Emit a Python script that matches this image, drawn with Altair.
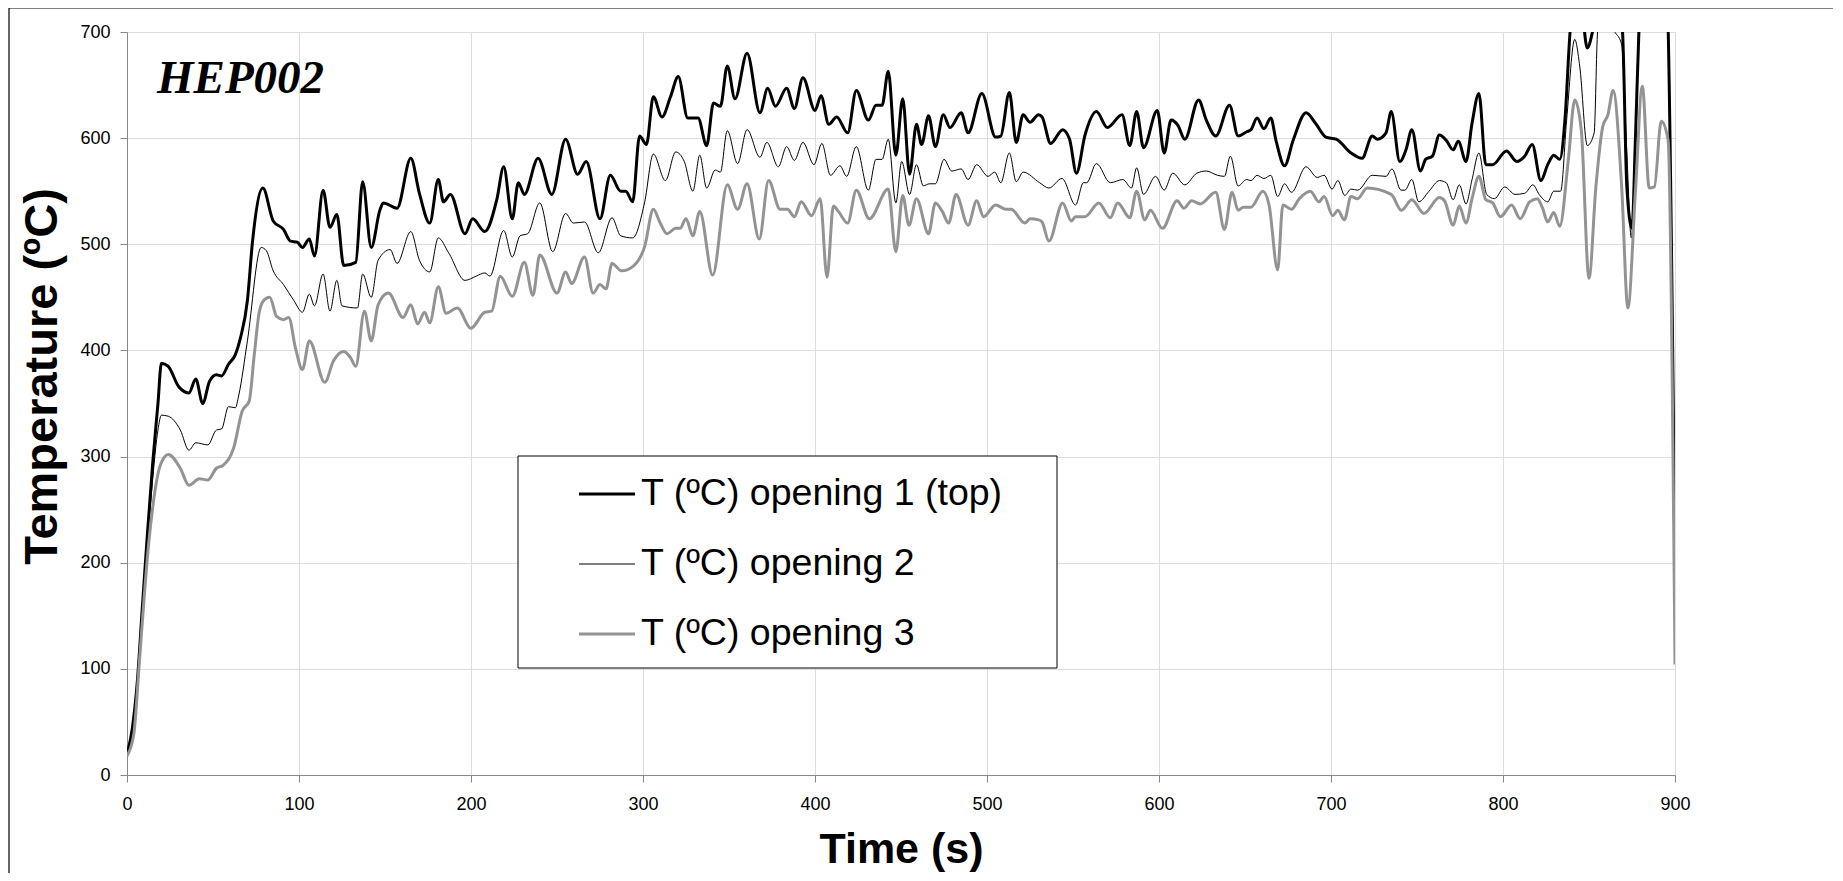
import altair as alt
import pandas as pd

series_names = ["T (ºC) opening 1 (top)", "T (ºC) opening 2", "T (ºC) opening 3"]
series_colors = ["#000000", "#000000", "#939393"]
series_widths = [3.0, 1.0, 3.0]

t1 = [0, 3, 6, 9, 12, 15, 18, 20, 24, 30, 36, 40, 44, 48, 52, 55, 59, 63, 66, 70, 73, 79, 85, 91, 95, 99,
      102, 106, 109, 114, 118, 122, 126, 133, 137, 142, 147, 149, 157, 165, 170, 176, 181, 184, 188, 196.5,
      201, 208, 215, 219, 224, 227.5, 231, 239, 247, 255, 262, 267, 275, 281, 287, 290, 294, 298, 302, 306,
      311, 316, 320.5, 326, 332, 337, 341, 345, 349, 353.5, 360.5, 368, 372.5, 377, 383.5, 388, 393, 400,
      403.5, 408, 412.6, 419, 424, 431, 435.5, 439, 442.6, 447, 451, 455, 459, 462, 466, 470, 474.6, 478.5,
      485, 489, 497, 505, 508, 513, 517, 521, 525, 530, 532, 537, 544, 548, 552, 557, 563.6, 570, 578.5,
      583, 587, 591, 599, 603, 607, 611, 615, 623, 627.5, 633, 641, 646, 651, 653.5, 657, 661, 665, 668,
      673, 678, 685.5, 691, 697, 703, 711.6, 718, 724, 727, 732, 735, 740, 743.6, 747, 752, 755, 759, 763,
      767, 771, 774, 778.5, 782, 786, 790, 794, 802, 808, 812.6, 817, 822, 826, 829.5, 833, 836, 839, 843,
      846, 849, 852, 856, 862, 867, 869.5, 872, 875, 877, 879, 882, 890, 895, 900]
T1 = [20, 43, 88, 160, 230, 295, 350, 388, 385, 366, 360, 373, 350, 371, 377, 376, 387, 396, 412, 447, 503,
      553, 522, 514, 503, 502, 497, 505, 489, 551, 516, 528, 480, 483, 559, 497, 532, 539, 534, 581, 548,
      520, 561, 540, 547, 510, 524, 512, 542, 573, 524, 558, 547, 581, 547, 599, 566, 578, 524, 565, 550,
      550, 540, 602, 594, 639, 620, 639, 658, 619, 619, 593, 633, 630, 668, 637, 680, 624, 647, 630, 647,
      628, 657, 626, 640, 613, 620, 605, 645, 617, 631, 631, 663, 584, 637, 566, 613, 594, 621, 592, 622,
      610, 624, 605, 642, 601, 602, 643, 596, 622, 615, 622, 620, 595, 608, 599, 567, 603, 625, 610, 622,
      593, 625, 591, 626, 586, 617, 612, 599, 636, 617, 602, 631, 602, 606, 608, 619, 609, 619, 598, 574,
      598, 624, 614, 601, 599, 586, 581, 602, 599, 605, 625, 578, 589, 608, 569, 580, 583, 603, 598, 589,
      597, 578, 614, 642, 575, 575, 588, 578, 583, 594, 560, 575, 584, 580, 617, 700, 745, 720, 685, 700,
      740, 750, 730, 700, 554, 515, 600, 700, 760, 770, 750, 188]

t2 = [0, 3, 6, 9, 12, 15, 18, 20, 24, 31, 36, 40, 47, 52, 55, 59, 63, 65, 70, 78, 81, 85, 91, 97, 102, 106,
      109, 114, 118, 122, 125, 134, 137, 142, 146, 153, 157, 165, 170, 176, 181, 187, 196.5, 203, 208, 211,
      219, 224, 228.5, 233, 240, 247.5, 255, 259.5, 266, 274, 282, 287, 294, 301, 306, 313, 319, 324, 329,
      333, 337, 342, 345, 349, 355, 360.5, 368, 372, 378.7, 383.5, 388, 393, 399.4, 404, 409, 414.5, 418.4,
      424, 431, 435.5, 439, 442.6, 447, 450.4, 455, 459, 463, 466.5, 470, 475, 479.5, 485, 489, 494, 500.6,
      504.5, 508, 513, 517, 521, 530.6, 536, 543.6, 551.5, 556, 558, 563.6, 571.7, 579, 584, 587, 591, 598,
      603, 608, 615, 622, 627.5, 634, 638, 641.5, 646, 651, 653.5, 657, 661, 665, 669, 673, 677, 685.5, 692,
      696, 700.6, 704, 708, 711.6, 715.5, 724, 732, 735.5, 740.7, 743, 747, 751, 757, 763, 767, 771, 774.6,
      778.5, 782, 786, 790.5, 795, 801, 807, 812.6, 817.4, 821, 826, 829.5, 833.5, 837, 841.7, 844.6, 849,
      853, 855, 860, 864, 869, 872, 874.6, 877, 879, 885, 895, 900]
T2 = [20, 40, 80, 150, 220, 280, 325, 339, 338, 325, 306, 313, 311, 325, 326, 347, 346, 358, 409, 497, 494,
      475, 462, 447, 436, 453, 442, 472, 437, 466, 442, 440, 472, 450, 485, 495, 482, 512, 485, 474, 506,
      492, 466, 470, 473, 470, 513, 488, 508, 510, 539, 493, 529, 520, 521, 492, 525, 508, 506, 540, 585,
      560, 587, 578, 550, 584, 553, 570, 568, 607, 576, 608, 582, 596, 573, 592, 579, 596, 575, 595, 565,
      574, 564, 592, 551, 580, 580, 599, 539, 578, 547, 575, 555, 557, 557, 580, 569, 571, 561, 575, 564,
      568, 558, 586, 559, 568, 558, 553, 562, 537, 558, 558, 576, 558, 561, 553, 572, 547, 564, 551, 567,
      556, 567, 569, 565, 564, 583, 555, 561, 560, 565, 562, 565, 545, 557, 549, 573, 563, 565, 552, 560,
      546, 552, 551, 565, 564, 571, 551, 551, 561, 540, 550, 560, 558, 542, 556, 538, 561, 586, 547, 543,
      554, 547, 548, 556, 547, 540, 550, 550, 617, 693, 668, 593, 605, 700, 740, 705, 688, 586, 506, 600,
      700, 760, 750, 160]

t3 = [0, 4, 7, 10, 12.6, 15.5, 19.4, 24, 31, 36, 42, 47, 52, 56, 62, 67, 71, 74, 77, 80, 83, 87, 91, 94, 98,
      102, 106, 115, 120, 126, 130, 133, 138, 142, 146, 152, 160.5, 165, 169, 173, 176, 181, 185.5, 192,
      200, 208, 212, 217, 224, 231, 236, 240, 250, 255, 258.5, 266, 271, 275, 278.5, 282, 287.5, 294, 301,
      306, 310, 314, 319, 321.5, 325, 329, 333, 340.5, 349, 355, 360.5, 367.6, 373, 379.7, 384, 388, 392,
      398, 403, 407, 410.7, 413.6, 419, 424, 431.6, 442.6, 447, 451, 454.6, 459, 466, 470, 474, 477.7, 482,
      489, 494, 498, 505, 511, 514, 522, 525, 530, 532, 536, 544, 549, 551.5, 557, 565, 571.7, 576, 583,
      587, 591.7, 595, 602, 610.5, 614.5, 619, 624, 633, 638, 642.5, 646, 649, 653.5, 660.4, 664, 669, 672,
      677, 681.6, 688, 693, 696, 701, 704, 707.8, 711.6, 715.5, 721, 735, 741, 747, 754, 763, 766, 771,
      774.6, 778.5, 782, 786, 790, 794, 798.5, 805, 810, 815.5, 820, 823, 826, 829.5, 833, 838, 841.7,
      845.5, 850, 854, 858, 861, 864, 869, 872.6, 877, 881, 885, 888, 892, 896, 900]
T3 = [18, 39, 102, 168, 218, 259, 292, 302, 289, 273, 279, 278, 289, 292, 308, 343, 352, 396, 437, 448, 450,
      432, 429, 431, 402, 382, 409, 370, 390, 399, 393, 385, 437, 409, 443, 454, 431, 443, 425, 436, 426,
      460, 435, 440, 421, 436, 437, 470, 451, 483, 452, 490, 454, 474, 463, 488, 454, 462, 458, 482, 475,
      479, 498, 533, 520, 510, 515, 515, 524, 508, 531, 471, 556, 533, 557, 505, 560, 533, 533, 526, 540,
      527, 543, 469, 536, 531, 520, 551, 524, 552, 493, 546, 518, 543, 510, 539, 531, 520, 547, 518, 541,
      526, 537, 533, 533, 520, 524, 523, 521, 503, 539, 522, 526, 526, 539, 525, 539, 525, 550, 523, 532,
      515, 541, 534, 541, 538, 549, 514, 549, 532, 535, 535, 550, 537, 476, 537, 533, 543, 550, 540, 545,
      527, 532, 523, 545, 543, 553, 547, 532, 542, 529, 544, 541, 518, 536, 520, 543, 564, 542, 539, 526,
      537, 524, 540, 543, 534, 521, 530, 517, 580, 636, 608, 468, 554, 611, 622, 645, 554, 440, 550, 649,
      553, 554, 616, 598, 104]

frames = []
for name, ts, vs in zip(series_names, [t1, t2, t3], [T1, T2, T3]):
    frames.append(pd.DataFrame({"time": ts, "temp": vs, "series": name}))
df = pd.concat(frames, ignore_index=True)

W, H = 1548, 743
FONT = "Liberation Sans"

x_enc = alt.X("time:Q",
              scale=alt.Scale(domain=[0, 900], nice=False, zero=False),
              axis=alt.Axis(values=list(range(0, 901, 100)), title="Time (s)",
                            labelFontSize=18, labelPadding=13, tickSize=7, labelFlush=False,
                            titleFontSize=43, titleFontWeight="bold", titleFont=FONT,
                            titleX=W / 2, titleY=74, titleBaseline="middle", titleAlign="center"))
y_enc = alt.Y("temp:Q",
              scale=alt.Scale(domain=[0, 700], nice=False),
              axis=alt.Axis(values=list(range(0, 701, 100)), title="Temperature (ºC)",
                            labelFontSize=18, labelPadding=10, tickSize=7, labelFlush=False,
                            titleFontSize=47, titleFontWeight="bold", titleFont=FONT,
                            titleX=-85, titleY=344, titleAngle=270,
                            titleBaseline="middle", titleAlign="center"))

color_enc = alt.Color("series:N", scale=alt.Scale(domain=series_names, range=series_colors), legend=None)

line_layers = []
for i, (name, sw) in enumerate(zip(series_names, series_widths)):
    enc = dict(x=x_enc, y=y_enc, color=color_enc) if i == 0 else dict(
        x=alt.X("time:Q"), y=alt.Y("temp:Q"), color=color_enc)
    line_layers.append(
        alt.Chart(df).transform_filter(alt.datum.series == name)
        .mark_line(interpolate="monotone", clip=True, strokeWidth=sw)
        .encode(**enc)
    )

label = alt.Chart(pd.DataFrame({"txt": ["HEP002"]})).mark_text(
    font="Liberation Serif", fontSize=47, fontWeight="bold", fontStyle="italic",
    align="left", baseline="alphabetic", color="black"
).encode(x=alt.value(30), y=alt.value(61), text="txt:N")

# legend (hand-built box)
leg_box = alt.Chart(pd.DataFrame({"a": [0]})).mark_rect(
    fill="white", stroke="black", strokeWidth=1
).encode(x=alt.value(391), x2=alt.value(930), y=alt.value(424), y2=alt.value(636))

leg_layers = [leg_box]
row_y = [462, 532, 602]
for name, col, sw, ry in zip(series_names, series_colors, series_widths, row_y):
    d = pd.DataFrame({"series": [name]})
    leg_layers.append(alt.Chart(d).mark_rule(color=col, strokeWidth=sw).encode(
        x=alt.value(452), x2=alt.value(508), y=alt.value(ry)))
    leg_layers.append(alt.Chart(d).mark_text(
        font=FONT, fontSize=37.5, align="left", baseline="middle", color="black"
    ).encode(x=alt.value(514), y=alt.value(ry), text="series:N"))

# outer chart frame (left and top edges)
frame_l = alt.Chart(pd.DataFrame({"a": [0]})).mark_rule(color="black", strokeWidth=1.2).encode(
    x=alt.value(-118), y=alt.value(-24), y2=alt.value(860))
frame_t = alt.Chart(pd.DataFrame({"a": [0]})).mark_rule(color="black", strokeWidth=1.2).encode(
    x=alt.value(-118), x2=alt.value(1720), y=alt.value(-24))

chart = alt.layer(*line_layers, label, *leg_layers, frame_l, frame_t).properties(
    width=W, height=H,
    autosize=alt.AutoSizeParams(type="none"),
    padding={"left": 119, "top": 24, "right": 158, "bottom": 98},
).configure_axis(
    labelFont=FONT, labelColor="black", titleColor="black",
    domainColor="#404040", tickColor="#404040", domainWidth=1.2,
    gridColor="#d9d9d9", gridWidth=1,
).configure_view(stroke=None).configure(background="white")

chart.save("out.html", embed_options={"renderer": "svg", "actions": False})
